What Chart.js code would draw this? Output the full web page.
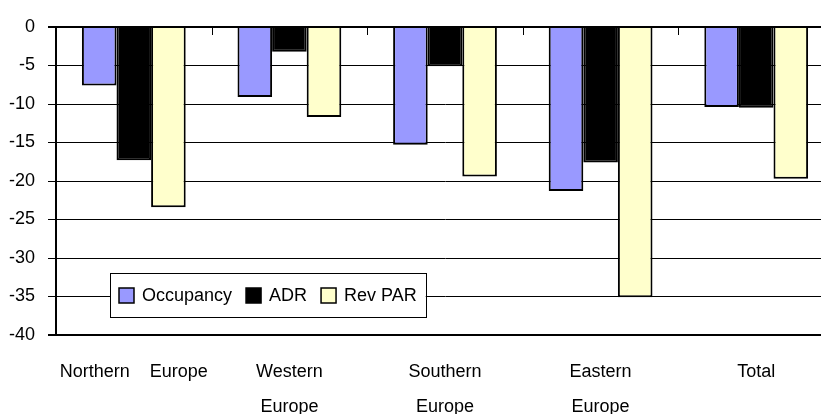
<!DOCTYPE html>
<html>
<head>
<meta charset="utf-8">
<script src="https://cdn.jsdelivr.net/npm/chart.js@4"></script>
<style>
  html, body { margin: 0; padding: 0; overflow: hidden; background: #fff; }
  #wrap { width: 840px; height: 430px; }
</style>
</head>
<body>
<div id="wrap"><canvas id="chart"></canvas></div>
<script>
const regions = [['Northern    Europe'], ['Western', 'Europe'], ['Southern', 'Europe'], ['Eastern', 'Europe'], ['Total']]
const occupancy = [-7.6, -9.1, -15.3, -21.3, -10.4]
const adr = [-17.3, -3.2, -5.1, -17.6, -10.5]
const revPar = [-23.4, -11.7, -19.4, -35.1, -19.7]
const yMin = -40
const yMax = 0
const yStep = 5

const FONT = '"Liberation Sans", Arial, sans-serif'

// zero line on top of bars + small category ticks hanging from it
const axisMarks = {
  id: 'axisMarks',
  afterDatasetsDraw(chart) {
    const { ctx, chartArea, scales } = chart
    const x = scales.x
    const y0 = scales.y.getPixelForValue(0)
    const half = (x.getPixelForValue(1) - x.getPixelForValue(0)) / 2
    ctx.save()
    ctx.strokeStyle = '#000'
    ctx.lineWidth = 2
    ctx.beginPath()
    ctx.moveTo(chartArea.left, y0)
    ctx.lineTo(chartArea.right, y0)
    ctx.stroke()
    ctx.lineWidth = 1
    ctx.beginPath()
    for (let i = 0; i <= regions.length; i++) {
      const px = Math.round(x.getPixelForValue(i) - half) + 0.5
      ctx.moveTo(px, y0)
      ctx.lineTo(px, y0 + 8)
    }
    ctx.stroke()
    ctx.restore()
  }
}

// boxed legend sitting inside the plot, lower left
const boxLegend = {
  id: 'boxLegend',
  afterDatasetsDraw(chart) {
    const { ctx, chartArea } = chart
    const items = chart.data.datasets
    const sw = 15, gapText = 8, gapItem = 14, padX = 9, h = 44
    ctx.save()
    ctx.font = '18px ' + FONT
    let w = padX * 2
    items.forEach((d, i) => {
      w += sw + gapText + ctx.measureText(d.label).width + (i < items.length - 1 ? gapItem : 0)
    })
    const left = Math.round(chartArea.left + 54)
    const top = Math.round(chartArea.bottom - 62)
    ctx.fillStyle = '#fff'
    ctx.fillRect(left, top, w, h)
    ctx.strokeStyle = '#000'
    ctx.lineWidth = 1
    ctx.strokeRect(left + 0.5, top + 0.5, Math.round(w), h)
    let x = left + padX
    const cy = top + h / 2
    items.forEach(d => {
      ctx.fillStyle = d.backgroundColor
      ctx.fillRect(x, cy - 7, sw, sw)
      ctx.lineWidth = 1.5
      ctx.strokeRect(x, cy - 7, sw, sw)
      x += sw + gapText
      ctx.fillStyle = '#000'
      ctx.textBaseline = 'middle'
      ctx.fillText(d.label, x, cy + 1)
      x += ctx.measureText(d.label).width + gapItem
    })
    ctx.restore()
  }
}

new Chart(document.getElementById('chart'), {
  type: 'bar',
  data: {
    labels: regions,
    datasets: [
      { label: 'Occupancy', data: occupancy, backgroundColor: '#9999FF', borderColor: '#000', borderWidth: 2 },
      { label: 'ADR', data: adr, backgroundColor: '#000000', borderColor: '#000', borderWidth: 2 },
      { label: 'Rev PAR', data: revPar, backgroundColor: '#FFFFCC', borderColor: '#000', borderWidth: 2 },
    ],
  },
  options: {
    responsive: true,
    maintainAspectRatio: false,
    animation: false,
    layout: { padding: { top: 27, right: 6, left: 0, bottom: 0 } },
    datasets: { bar: { categoryPercentage: 0.667, barPercentage: 1 } },
    plugins: {
      legend: { display: false },
      tooltip: { enabled: false },
    },
    scales: {
      x: {
        grid: { display: false, drawTicks: false },
        border: { display: false },
        ticks: {
          color: '#000',
          font: { family: FONT, size: 18, lineHeight: 1.95 },
          padding: 19,
          maxRotation: 0,
          autoSkip: false,
        },
        afterFit(scale) { scale.height = 95 },
      },
      y: {
        min: yMin,
        max: yMax,
        ticks: {
          stepSize: yStep,
          color: '#000',
          font: { family: FONT, size: 18 },
          padding: 13,
        },
        grid: {
          color: '#000',
          lineWidth: c => (c.tick && (c.tick.value === yMin || c.tick.value === yMax)) ? 2 : 1,
          tickLength: 8,
          tickColor: '#000',
        },
        border: { color: '#000', width: 2 },
        afterFit(scale) { scale.width = 56 },
      },
    },
  },
  plugins: [axisMarks, boxLegend],
})
</script>
</body>
</html>
